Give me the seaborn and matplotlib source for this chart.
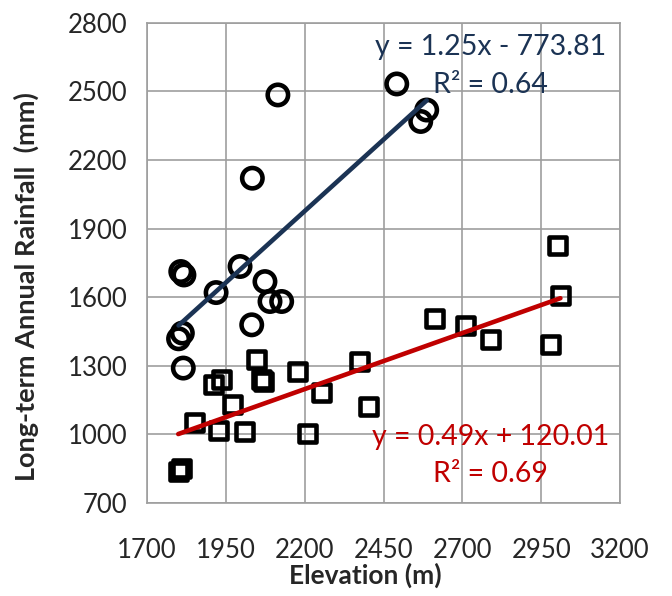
import numpy as np
import pandas as pd
import matplotlib
matplotlib.use("Agg")
import matplotlib.pyplot as plt
import seaborn as sns

# Stations in the upper group (circles)
elev_a = [2115, 2492, 2587, 2568, 2034, 1807, 1817, 1995, 1919, 2074,
          2090, 2127, 2032, 1812, 1800, 1815]
rain_a = [2484, 2532, 2418, 2368, 2120, 1712, 1697, 1734, 1620, 1668,
          1581, 1581, 1479, 1443, 1418, 1290]

# Stations in the lower group (squares)
elev_b = [2048, 2064, 2069, 1910, 1937, 2178, 2254, 2374, 2402, 1972,
          1852, 1926, 2009, 2210, 1799, 1810, 2612, 2709, 2788, 3002,
          3011, 2981]
rain_b = [1326, 1239, 1231, 1217, 1239, 1275, 1183, 1319, 1122, 1129,
          1052, 1017, 1013, 1006, 838, 852, 1508, 1475, 1413, 1824,
          1606, 1392]

# Linear trendline coefficients and fit quality
slope_a, icpt_a, r2_a = 1.25, -773.81, 0.64
slope_b, icpt_b, r2_b = 0.49, 120.01, 0.69

x_ticks = [1700, 1950, 2200, 2450, 2700, 2950, 3200]
y_ticks = [700, 1000, 1300, 1600, 1900, 2200, 2500, 2800]

navy = "#1B3354"
red = "#C00000"
grid_grey = "#9E9E9E"

sns.set_theme(style="white")
plt.rcParams["font.family"] = ["Lato", "DejaVu Sans"]

fig = plt.figure(figsize=(6.72, 5.96), dpi=100)
ax = fig.add_axes([0.2188, 0.156, 0.7038, 0.806])

df_a = pd.DataFrame({"Elevation": elev_a, "Rainfall": rain_a})
df_b = pd.DataFrame({"Elevation": elev_b, "Rainfall": rain_b})

sns.scatterplot(data=df_a, x="Elevation", y="Rainfall", marker="o", s=215,
                facecolor="none", edgecolor="black", linewidth=3.3, ax=ax, zorder=3)
sns.scatterplot(data=df_b, x="Elevation", y="Rainfall", marker="s", s=150,
                facecolor="none", edgecolor="black", linewidth=3.3, ax=ax, zorder=3)

# Trendlines spanning each group's elevation range
for elev, m, c, col in [(elev_a, slope_a, icpt_a, navy), (elev_b, slope_b, icpt_b, red)]:
    xs = np.array([min(elev), max(elev)], dtype=float)
    sns.lineplot(x=xs, y=m * xs + c, color=col, linewidth=3.3, ax=ax, zorder=4)

ax.set_xlim(1700, 3200)
ax.set_ylim(700, 2800)
ax.set_xticks(x_ticks)
ax.set_yticks(y_ticks)
ax.tick_params(axis="x", labelsize=18.5, pad=25, length=0)
ax.tick_params(axis="y", labelsize=18.5, pad=14, length=0)
ax.grid(True, color=grid_grey, linewidth=1.2)
for sp in ax.spines.values():
    sp.set_color(grid_grey)
    sp.set_linewidth(1.2)

ax.set_xlabel("Elevation (m)", fontsize=19, fontweight="bold")
ax.set_ylabel("Long-term Annual Rainfall  (mm)", fontsize=19.5, fontweight="bold")
ax.xaxis.set_label_coords(0.461, -0.125)
ax.yaxis.set_label_coords(-0.228, 0.451)

eq_x = 2790
ax.text(eq_x, 2694, f"y = {slope_a:.2f}x - {abs(icpt_a):.2f}", color=navy,
        fontsize=20.5, ha="center", va="center")
ax.text(eq_x, 2528, f"R² = {r2_a:.2f}", color=navy, fontsize=20.5, ha="center", va="center")
ax.text(eq_x, 990, f"y = {slope_b:.2f}x + {icpt_b:.2f}", color=red,
        fontsize=20.5, ha="center", va="center")
ax.text(eq_x, 828, f"R² = {r2_b:.2f}", color=red, fontsize=20.5, ha="center", va="center")

fig.savefig("out.png", dpi=100)
